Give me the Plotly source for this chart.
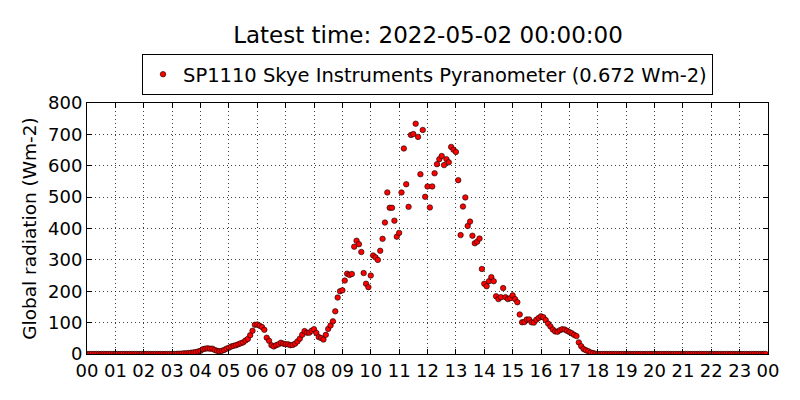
import pandas as pd
import plotly.graph_objects as go

title_text = "Latest time: 2022-05-02 00:00:00"
series_name = "SP1110 Skye Instruments Pyranometer (0.672 Wm-2)"
y_label = "Global radiation (Wm-2)"

# 5-minute samples for 2022-05-01, one row per hour
radiation = [
    0, 0, 0, 0, 0, 0, 0, 0, 0, 0, 0, 0,                              # 00
    0, 0, 0, 0, 0, 0, 0, 0, 0, 0, 0, 0,                              # 01
    0, 0, 0, 0, 0, 0, 0, 0, 0, 0, 0, 0,                              # 02
    0, 0, 0.5, 1, 1, 2, 2, 3, 4, 5, 6, 8,                            # 03
    10, 15, 17, 18, 17, 17, 13, 10, 9, 10, 13, 17,                   # 04
    20, 24, 26, 28, 31, 34, 37, 43, 48, 60, 74, 93,                  # 05
    94, 90, 86, 77, 52, 42, 28, 24, 28, 31, 36, 33,                  # 06
    31, 31, 28, 29, 33, 40, 49, 61, 73, 68, 68, 74,                  # 07
    79, 67, 54, 51, 46, 61, 80, 91, 104, 136, 180, 200,              # 08
    203, 234, 256, 252, 255, 342, 361, 350, 325, 258, 224, 213,      # 09
    250, 314, 308, 300, 329, 367, 419, 515, 466, 466, 425, 374,      # 10
    386, 515, 655, 541, 469, 698, 701, 734, 692, 573, 714, 501,      # 11
    534, 467, 534, 576, 605, 621, 631, 602, 621, 611, 660, 651,      # 12
    644, 554, 379, 470, 499, 408, 422, 377, 353, 358, 368, 271,      # 13
    224, 216, 232, 245, 232, 184, 175, 181, 210, 181, 175, 178,      # 14
    187, 175, 165, 126, 101, 102, 110, 110, 101, 100, 109, 115,      # 15
    120, 117, 108, 97, 88, 78, 72, 71, 76, 79, 78, 74,               # 16
    70, 66, 61, 57, 37, 25, 16, 12, 9, 5, 3, 1,                      # 17
    0, 0, 0, 0, 0, 0, 0, 0, 0, 0, 0, 0,                              # 18
    0, 0, 0, 0, 0, 0, 0, 0, 0, 0, 0, 0,                              # 19
    0, 0, 0, 0, 0, 0, 0, 0, 0, 0, 0, 0,                              # 20
    0, 0, 0, 0, 0, 0, 0, 0, 0, 0, 0, 0,                              # 21
    0, 0, 0, 0, 0, 0, 0, 0, 0, 0, 0, 0,                              # 22
    0, 0, 0, 0, 0, 0, 0, 0, 0, 0, 0, 0,                              # 23
]

day_start = "2022-05-01 00:00:00"
day_end = "2022-05-02 00:00:00"
times = pd.date_range(day_start, periods=len(radiation), freq="5min")

y_ticks = [0, 100, 200, 300, 400, 500, 600, 700, 800]

FONT = "DejaVu Sans"

fig = go.Figure()
fig.add_trace(go.Scatter(
    x=times, y=radiation, mode="markers", name=series_name,
    marker=dict(color="#ff0000", size=5.5, line=dict(color="black", width=0.6)),
))

axis_common = dict(
    showline=True, linecolor="black", linewidth=1, mirror="ticks",
    ticks="inside", ticklen=5, tickcolor="black", tickwidth=1,
    showgrid=True, gridcolor="rgba(0,0,0,0.75)", gridwidth=1, griddash="1px,3px",
    zeroline=False, automargin=False,
    tickfont=dict(family=FONT, size=18, color="black"),
)

fig.update_layout(
    width=800, height=400,
    margin=dict(l=87, r=32, t=103, b=46, autoexpand=False),
    paper_bgcolor="white", plot_bgcolor="white",
    font=dict(family=FONT, color="black"),
    title=dict(text=title_text, x=0.535, xanchor="center", y=1 - 35 / 400, yanchor="middle",
               yref="container", font=dict(family=FONT, size=23, color="black")),
    showlegend=True,
    legend=dict(x=0.5, xanchor="center", y=1.195, yanchor="top",
                bordercolor="black", borderwidth=1, bgcolor="white",
                font=dict(family=FONT, size=19.5, color="black"),
                itemsizing="trace"),
    xaxis=dict(axis_common, type="date", range=[day_start, day_end],
               tickformat="%H", dtick=3600000, tick0=day_start),
    yaxis=dict(axis_common, range=[0, 800], tickvals=y_ticks,
               title=dict(text=y_label, font=dict(family=FONT, size=18.5, color="black"), standoff=6)),
)

fig.write_html("out.html", config={"displayModeBar": False},
               post_script="document.body.style.margin='0';")
